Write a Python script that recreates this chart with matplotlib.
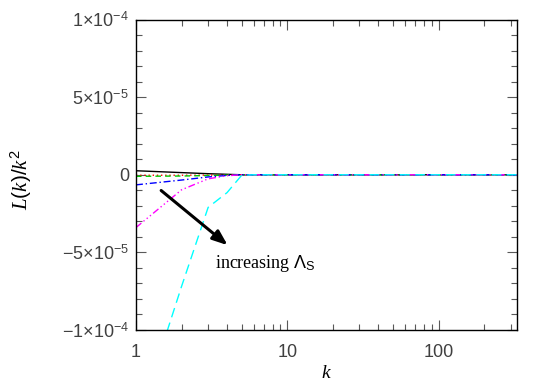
import numpy as np
import matplotlib
matplotlib.use("Agg")
import matplotlib.pyplot as plt
from matplotlib.ticker import FixedLocator, FixedFormatter, LogLocator, NullFormatter

plt.rcParams['mathtext.fontset'] = 'custom'
plt.rcParams['mathtext.rm'] = 'Liberation Sans'
plt.rcParams['mathtext.it'] = 'Liberation Serif:italic'
plt.rcParams['mathtext.sf'] = 'Liberation Sans'

# wavenumbers and L(k)/k^2 for each run
k = [1, 2, 3, 4, 5, 6, 10, 30, 100, 333]
run_black = [2.6e-6, 1.4e-6, 0.7e-6, 0.3e-6, 0.0, 0.0, 0.0, 0.0, 0.0, 0.0]
run_red = [-0.3e-6, -0.3e-6, -0.2e-6, -0.1e-6, 0.0, 0.0, 0.0, 0.0, 0.0, 0.0]
run_green = [-1.0e-6, -0.8e-6, -0.5e-6, -0.2e-6, 0.0, 0.0, 0.0, 0.0, 0.0, 0.0]
run_blue = [-6.5e-6, -3.4e-6, -1.4e-6, -0.4e-6, 0.0, 0.0, 0.0, 0.0, 0.0, 0.0]
run_magenta = [-3.4e-5, -9.7e-6, -2.6e-6, -0.6e-6, 0.0, 0.0, 0.0, 0.0, 0.0, 0.0]
run_cyan = [-1.63e-4, -7.2e-5, -2.1e-5, -1.15e-5, -0.3e-6, 0.0, 0.0, 0.0, 0.0, 0.0]

ytick_vals = [-1e-4, -5e-5, 0, 5e-5, 1e-4]
ytick_text = [r'$-$1×10$^{-4}$', r'$-$5×10$^{-5}$', '0', r'5×10$^{-5}$', r'1×10$^{-4}$']
xtick_vals = [1, 10, 100]
xtick_text = ['1', '10', '100']

fig = plt.figure(figsize=(5.45, 3.89), dpi=100)
ax = fig.add_axes([0.2495, 0.1517, 0.699, 0.798])

ax.plot(k, run_black, color='black', lw=1.0, ls='-')
ax.plot(k, run_red, color='red', lw=1.0, ls=(0, (1, 2)))
ax.plot(k, run_green, color='#00cc00', lw=1.0, ls=(0, (4, 3)))
ax.plot(k, run_blue, color='blue', lw=1.0, ls=(0, (5, 2, 1, 2)))
ax.plot(k, run_magenta, color='magenta', lw=1.0, ls=(0, (5, 2, 1, 2, 1, 2, 1, 2)))
ax.plot(k, run_cyan, color='cyan', lw=1.0, ls=(0, (7, 4)))

ax.set_xscale('log')
ax.set_xlim(1, 330)
ax.set_ylim(-1e-4, 1e-4)

ax.yaxis.set_major_locator(FixedLocator(ytick_vals))
ax.yaxis.set_major_formatter(FixedFormatter(ytick_text))
ax.yaxis.set_minor_locator(FixedLocator(np.arange(-1e-4, 1.01e-4, 1e-5)))
ax.xaxis.set_major_locator(FixedLocator(xtick_vals))
ax.xaxis.set_major_formatter(FixedFormatter(xtick_text))
ax.xaxis.set_minor_locator(LogLocator(base=10, subs=np.arange(2, 10)))
ax.xaxis.set_minor_formatter(NullFormatter())

ax.tick_params(which='both', direction='in', top=True, right=True, colors='0.35',
               labelcolor='0.25', labelsize=13)
ax.tick_params(which='major', length=7, width=0.8)
ax.tick_params(which='minor', length=4, width=0.8)
ax.tick_params(axis='x', pad=10)
ax.tick_params(axis='y', pad=5)
for s in ax.spines.values():
    s.set_color('black')
    s.set_linewidth(1.0)
for lab in ax.get_xticklabels() + ax.get_yticklabels():
    lab.set_family('Liberation Sans')

ax.set_xlabel(r'$k$', fontsize=14)
ax.set_ylabel(r'$L(k)/k^2$', fontsize=15)
ax.xaxis.set_label_coords(0.5, -0.105)
ax.yaxis.set_label_coords(-0.268, 0.483)

ax.annotate('', xy=(4.17, -4.65e-5), xytext=(1.42, -9.0e-6),
            arrowprops=dict(arrowstyle='-|>,head_length=0.9,head_width=0.35',
                            color='black', lw=2.2))
ax.text(3.32, -5.7e-5, r'increasing $\Lambda_\mathsf{S}$', fontsize=13,
        family='Liberation Serif', va='center', ha='left')

fig.savefig('out.png', dpi=100)
